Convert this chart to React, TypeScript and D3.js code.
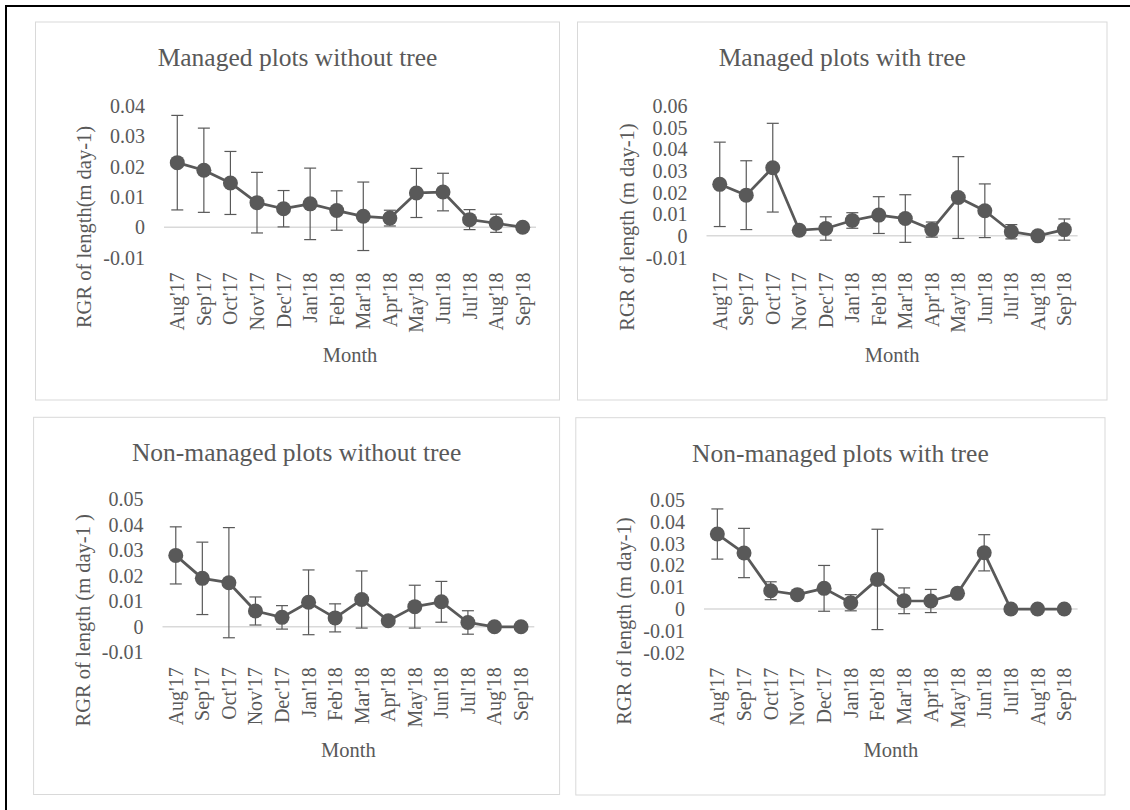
import React, { useEffect, useRef } from "react";
import * as d3 from "d3";

const months = ["Aug'17", "Sep'17", "Oct'17", "Nov'17", "Dec'17", "Jan'18", "Feb'18", "Mar'18", "Apr'18", "May'18", "Jun'18", "Jul'18", "Aug'18", "Sep'18"];

const titles = ["Managed plots without tree", "Managed plots with tree", "Non-managed plots without tree", "Non-managed plots with tree"];
const yTitles = ["RGR of length(m day-1)", "RGR of length (m day-1)", "RGR of length (m day-1 )", "RGR of length (m day-1)"];
const xTitle = "Month";

const managedNoTree = [0.0213, 0.0188, 0.0146, 0.0081, 0.0061, 0.0077, 0.0055, 0.0036, 0.0030, 0.0113, 0.0116, 0.0025, 0.0013, 0.0000];
const managedNoTreeErr = [0.0156, 0.0139, 0.0104, 0.0100, 0.0060, 0.0118, 0.0065, 0.0113, 0.0026, 0.0081, 0.0062, 0.0033, 0.0030, 0];

const managedTree = [0.0238, 0.0188, 0.0315, 0.0026, 0.0034, 0.0071, 0.0096, 0.0080, 0.0029, 0.0177, 0.0116, 0.0019, 0.0000, 0.0029];
const managedTreeErr = [0.0195, 0.0159, 0.0205, 0, 0.0054, 0.0036, 0.0085, 0.0110, 0.0035, 0.0189, 0.0124, 0.0033, 0, 0.0049];

const nonManagedNoTree = [0.0280, 0.0190, 0.0173, 0.0062, 0.0037, 0.0096, 0.0035, 0.0107, 0.0024, 0.0079, 0.0098, 0.0017, 0.0000, 0.0000];
const nonManagedNoTreeErr = [0.0112, 0.0142, 0.0216, 0.0055, 0.0046, 0.0127, 0.0055, 0.0112, 0, 0.0084, 0.0080, 0.0046, 0, 0];

const nonManagedTree = [0.0344, 0.0257, 0.0084, 0.0066, 0.0095, 0.0029, 0.0136, 0.0038, 0.0037, 0.0072, 0.0258, 0.0000, 0.0000, 0.0000];
const nonManagedTreeErr = [0.0115, 0.0113, 0.0041, 0, 0.0105, 0.0037, 0.0230, 0.0059, 0.0053, 0, 0.0083, 0, 0, 0];

const yTicks1 = [-0.01, 0, 0.01, 0.02, 0.03, 0.04];
const yTicks2 = [-0.01, 0, 0.01, 0.02, 0.03, 0.04, 0.05, 0.06];
const yTicks3 = [-0.01, 0, 0.01, 0.02, 0.03, 0.04, 0.05];
const yTicks4 = [-0.02, -0.01, 0, 0.01, 0.02, 0.03, 0.04, 0.05];

const seriesList = [managedNoTree, managedTree, nonManagedNoTree, nonManagedTree];
const errList = [managedNoTreeErr, managedTreeErr, nonManagedNoTreeErr, nonManagedTreeErr];
const tickList = [yTicks1, yTicks2, yTicks3, yTicks4];

// layout (positions only)
const layout = [
  { bx0: 35.5, by0: 22, bx1: 559.5, by1: 400, px0: 164, px1: 536, py0: 106, py1: 257.5 },
  { bx0: 577.5, by0: 22, bx1: 1107, by1: 400, px0: 706.5, px1: 1077.6, py0: 106, py1: 257.5 },
  { bx0: 33.6, by0: 417.3, bx1: 559.6, by1: 794.5, px0: 162.5, px1: 534.3, py0: 499.3, py1: 652.3 },
  { bx0: 575.8, by0: 417.7, bx1: 1105, by1: 795, px0: 704, px1: 1077.6, py0: 500, py1: 652.7 },
];

const FONT = "'Liberation Serif', 'Times New Roman', serif";
const TEXT = "#595959";
const GRID = "#d9d9d9";

export default function App() {
  const ref = useRef<SVGSVGElement | null>(null);

  useEffect(() => {
    const svg = d3.select(ref.current);
    svg.selectAll("*").remove();

    svg.append("rect").attr("x", 0).attr("y", 0).attr("width", 1130).attr("height", 810).attr("fill", "#fff");
    svg.append("rect").attr("x", 6).attr("y", 6).attr("width", 1300).attr("height", 1000)
      .attr("fill", "none").attr("stroke", "#000").attr("stroke-width", 2);

    layout.forEach((L, i) => {
      const g = svg.append("g");
      const vals = seriesList[i];
      const errs = errList[i];
      const ticks = tickList[i];

      g.append("rect").attr("x", L.bx0).attr("y", L.by0).attr("width", L.bx1 - L.bx0).attr("height", L.by1 - L.by0)
        .attr("fill", "#fff").attr("stroke", GRID).attr("stroke-width", 1);

      const x = d3.scaleBand<string>().domain(months).range([L.px0, L.px1]);
      const y = d3.scaleLinear().domain([ticks[0], ticks[ticks.length - 1]]).range([L.py1, L.py0]);
      const cx = (m: string) => (x(m) as number) + x.bandwidth() / 2;

      // title
      g.append("text").attr("x", (L.bx0 + L.bx1) / 2).attr("y", L.by0 + 44)
        .attr("text-anchor", "middle").attr("font-family", FONT).attr("font-size", 25.5).attr("fill", TEXT)
        .text(titles[i]);

      // zero line
      g.append("line").attr("x1", L.px0).attr("x2", L.px1).attr("y1", y(0)).attr("y2", y(0))
        .attr("stroke", GRID).attr("stroke-width", 1.5);

      // y tick labels
      g.selectAll(".yt").data(ticks).enter().append("text")
        .attr("x", L.px0 - 19).attr("y", (d) => y(d)).attr("dy", "0.35em")
        .attr("text-anchor", "end").attr("font-family", FONT).attr("font-size", 20).attr("fill", TEXT)
        .text((d) => (d === 0 ? "0" : d.toFixed(2)));

      // x tick labels
      g.selectAll(".xt").data(months).enter().append("text")
        .attr("transform", (d) => `translate(${cx(d)},${L.py1 + 15}) rotate(-90)`)
        .attr("dy", "0.35em").attr("text-anchor", "end").attr("font-family", FONT).attr("font-size", 20).attr("fill", TEXT)
        .text((d) => d);

      // axis titles
      g.append("text").attr("x", (L.px0 + L.px1) / 2).attr("y", L.py1 + 104.5)
        .attr("text-anchor", "middle").attr("font-family", FONT).attr("font-size", 20.5).attr("fill", TEXT)
        .text(xTitle);
      g.append("text").attr("transform", `translate(${L.px0 - 73},${L.py0 + 121}) rotate(-90)`)
        .attr("text-anchor", "middle").attr("font-family", FONT).attr("font-size", 20.5).attr("fill", TEXT)
        .text(yTitles[i]);

      const data = months.map((m, k) => ({ m, v: vals[k], e: errs[k] }));

      // error bars
      const eb = g.selectAll(".eb").data(data.filter((d) => d.e > 0)).enter().append("g");
      eb.append("line").attr("x1", (d) => cx(d.m)).attr("x2", (d) => cx(d.m))
        .attr("y1", (d) => y(d.v + d.e)).attr("y2", (d) => y(d.v - d.e))
        .attr("stroke", TEXT).attr("stroke-width", 1.2);
      eb.append("line").attr("x1", (d) => cx(d.m) - 6).attr("x2", (d) => cx(d.m) + 6)
        .attr("y1", (d) => y(d.v + d.e)).attr("y2", (d) => y(d.v + d.e))
        .attr("stroke", TEXT).attr("stroke-width", 1.2);
      eb.append("line").attr("x1", (d) => cx(d.m) - 6).attr("x2", (d) => cx(d.m) + 6)
        .attr("y1", (d) => y(d.v - d.e)).attr("y2", (d) => y(d.v - d.e))
        .attr("stroke", TEXT).attr("stroke-width", 1.2);

      // line
      const line = d3.line<{ m: string; v: number }>().x((d) => cx(d.m)).y((d) => y(d.v));
      g.append("path").datum(data).attr("d", line as any).attr("fill", "none")
        .attr("stroke", TEXT).attr("stroke-width", 2.75).attr("stroke-linejoin", "round");

      // markers
      g.selectAll(".pt").data(data).enter().append("circle")
        .attr("cx", (d) => cx(d.m)).attr("cy", (d) => y(d.v)).attr("r", 7.5)
        .attr("fill", TEXT);
    });
  }, []);

  return (
    <svg ref={ref} width={1130} height={810}
      style={{ position: "absolute", left: 0, top: 0, display: "block" }} />
  );
}
